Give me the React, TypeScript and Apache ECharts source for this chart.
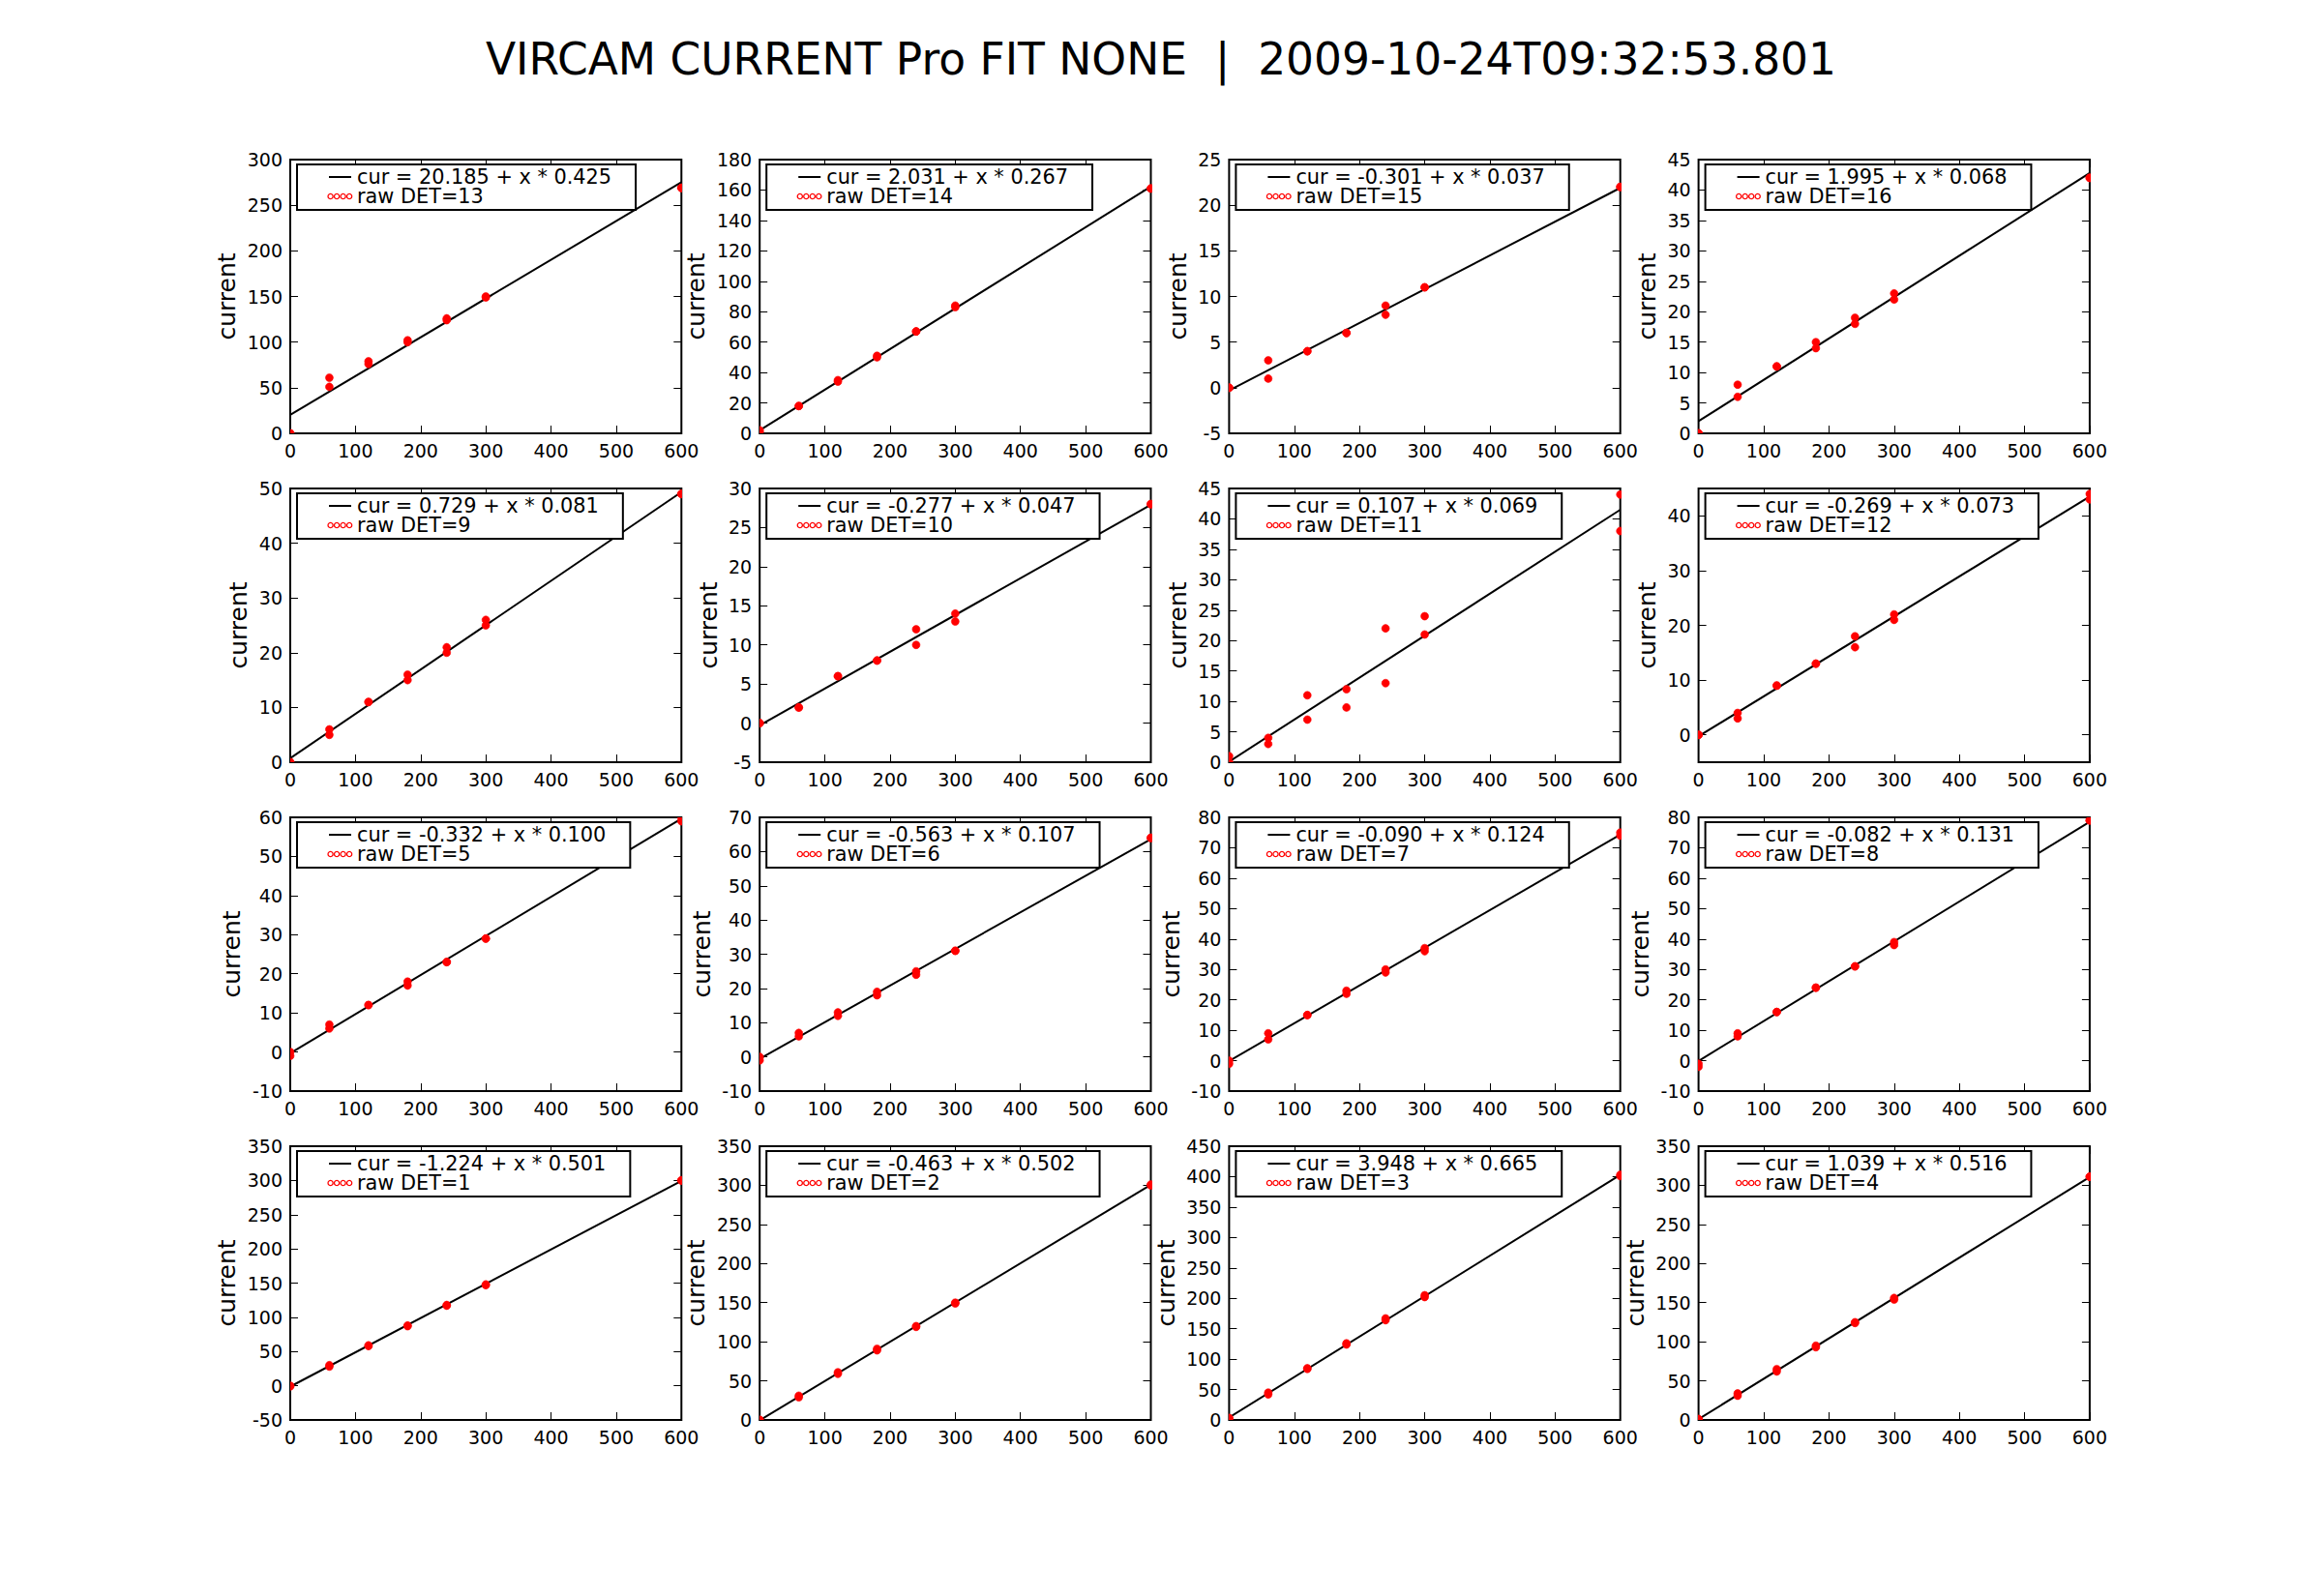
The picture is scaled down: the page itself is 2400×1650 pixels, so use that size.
import React, { useEffect, useRef } from "react";
import * as echarts from "echarts";

const TITLE = "VIRCAM CURRENT Pro FIT NONE  |  2009-10-24T09:32:53.801";
const Y_NAME = "current";

// shared exposure-time axis: two readings per setting
const X_VALUES = [0, 0, 60, 60, 120, 120, 180, 180, 240, 240, 300, 300, 600, 600];
const X_TICKS = [0, 100, 200, 300, 400, 500, 600];
const X_LIMITS = [0, 600];

// panel order, left-to-right, top-to-bottom
const PANEL_DET = [13, 14, 15, 16, 9, 10, 11, 12, 5, 6, 7, 8, 1, 2, 3, 4];

const FIT_INTERCEPT = ["20.185", "2.031", "-0.301", "1.995", "0.729", "-0.277", "0.107", "-0.269", "-0.332", "-0.563", "-0.090", "-0.082", "-1.224", "-0.463", "3.948", "1.039"];
const FIT_SLOPE = ["0.425", "0.267", "0.037", "0.068", "0.081", "0.047", "0.069", "0.073", "0.100", "0.107", "0.124", "0.131", "0.501", "0.502", "0.665", "0.516"];

// raw readings (one per X_VALUES entry)
const RAW_13 = [0, 0, 61, 51, 79, 76, 102, 100, 126, 124, 150, 149, 269, 269];
const RAW_14 = [2, 1, 18, 18, 35, 34, 51, 50, 67, 67, 84, 83, 161, 161];
const RAW_15 = [0, 0, 3, 1, 4, 4, 6, 6, 9, 8, 11, 11, 22, 22];
const RAW_16 = [0, 0, 8, 6, 11, 11, 15, 14, 19, 18, 23, 22, 42, 42];
const RAW_9 = [0, 0, 6, 5, 11, 11, 16, 15, 21, 20, 26, 25, 49, 49];
const RAW_10 = [0, 0, 2, 2, 6, 6, 8, 8, 12, 10, 14, 13, 28, 28];
const RAW_11 = [1, 0, 4, 3, 11, 7, 12, 9, 22, 13, 24, 21, 44, 38];
const RAW_12 = [0, 0, 4, 3, 9, 9, 13, 13, 18, 16, 22, 21, 44, 43];
const RAW_5 = [0, -1, 7, 6, 12, 12, 18, 17, 23, 23, 29, 29, 60, 59];
const RAW_6 = [0, -1, 7, 6, 13, 12, 19, 18, 25, 24, 31, 31, 64, 64];
const RAW_7 = [0, -1, 9, 7, 15, 15, 23, 22, 30, 29, 37, 36, 75, 74];
const RAW_8 = [-1, -2, 9, 8, 16, 16, 24, 24, 31, 31, 39, 38, 79, 79];
const RAW_1 = [0, -1, 30, 28, 59, 58, 88, 87, 118, 117, 148, 147, 300, 300];
const RAW_2 = [0, 0, 31, 29, 61, 59, 91, 89, 120, 119, 150, 149, 301, 300];
const RAW_3 = [3, 3, 45, 42, 85, 84, 126, 124, 167, 164, 205, 202, 403, 401];
const RAW_4 = [1, 1, 34, 31, 65, 62, 95, 93, 125, 124, 156, 154, 311, 311];

const RAW_BY_DET: Record<number, number[]> = {
  1: RAW_1, 2: RAW_2, 3: RAW_3, 4: RAW_4, 5: RAW_5, 6: RAW_6, 7: RAW_7, 8: RAW_8,
  9: RAW_9, 10: RAW_10, 11: RAW_11, 12: RAW_12, 13: RAW_13, 14: RAW_14, 15: RAW_15, 16: RAW_16,
};

const Y_LIMITS = [
  [0, 300], [0, 180], [-5, 25], [0, 45],
  [0, 50], [-5, 30], [0, 45], [-5, 45],
  [-10, 60], [-10, 70], [-10, 80], [-10, 80],
  [-50, 350], [0, 350], [0, 450], [0, 350],
];
const Y_TICKS = [
  [0, 50, 100, 150, 200, 250, 300],
  [0, 20, 40, 60, 80, 100, 120, 140, 160, 180],
  [-5, 0, 5, 10, 15, 20, 25],
  [0, 5, 10, 15, 20, 25, 30, 35, 40, 45],
  [0, 10, 20, 30, 40, 50],
  [-5, 0, 5, 10, 15, 20, 25, 30],
  [0, 5, 10, 15, 20, 25, 30, 35, 40, 45],
  [0, 10, 20, 30, 40],
  [-10, 0, 10, 20, 30, 40, 50, 60],
  [-10, 0, 10, 20, 30, 40, 50, 60, 70],
  [-10, 0, 10, 20, 30, 40, 50, 60, 70, 80],
  [-10, 0, 10, 20, 30, 40, 50, 60, 70, 80],
  [-50, 0, 50, 100, 150, 200, 250, 300, 350],
  [0, 50, 100, 150, 200, 250, 300, 350],
  [0, 50, 100, 150, 200, 250, 300, 350, 400, 450],
  [0, 50, 100, 150, 200, 250, 300, 350],
];

// layout
const FONT = "DejaVu Sans";
const COL_LEFT = [300, 785.2, 1270.4, 1755.6];
const ROW_TOP = [165, 505, 845, 1185];
const PLOT_W = 404.3;
const PLOT_H = 283;
const TICK_FONT = 19;
const LEGEND_FONT = 20.83;
const NAME_FONT = 25;

function labelWidth(v: number) {
  const s = String(v);
  let w = 0;
  for (const ch of s) w += ch === "-" ? 0.361 : 0.636;
  return w * TICK_FONT;
}

function buildOption() {
  const grid: any[] = [];
  const xAxis: any[] = [];
  const yAxis: any[] = [];
  const series: any[] = [];
  const elements: any[] = [];

  const tickStyle = { color: "#000", width: 1 };
  const labelStyle = { fontSize: TICK_FONT, color: "#000", fontFamily: FONT, margin: 8, showMinLabel: true, showMaxLabel: true, hideOverlap: false };

  PANEL_DET.forEach((det, i) => {
    const r = Math.floor(i / 4);
    const c = i % 4;
    const left = COL_LEFT[c];
    const top = ROW_TOP[r];
    const [ymin, ymax] = Y_LIMITS[i];
    const yt = Y_TICKS[i];

    grid.push({
      left, top, width: PLOT_W, height: PLOT_H,
      show: true, borderColor: "#000", borderWidth: 2, backgroundColor: "transparent",
    });

    const xCommon = {
      type: "value", gridIndex: i, min: X_LIMITS[0], max: X_LIMITS[1],
      axisLine: { show: false, onZero: false },
      splitLine: { show: false },
      axisTick: { show: true, inside: true, length: 8, lineStyle: tickStyle, customValues: X_TICKS },
    };
    xAxis.push({ ...xCommon, position: "bottom", axisLabel: { ...labelStyle, customValues: X_TICKS } });
    xAxis.push({ ...xCommon, position: "top", axisLabel: { show: false } });

    const yCommon = {
      type: "value", gridIndex: i, min: ymin, max: ymax,
      axisLine: { show: false, onZero: false },
      splitLine: { show: false },
      axisTick: { show: true, inside: true, length: 8, lineStyle: tickStyle, customValues: yt },
    };
    const maxW = Math.max(...yt.map(labelWidth));
    yAxis.push({
      ...yCommon, position: "left",
      axisLabel: { ...labelStyle, customValues: yt },
      name: Y_NAME, nameLocation: "middle", nameRotate: 90, nameGap: 16.5 + maxW,
      nameTextStyle: { fontSize: NAME_FONT, color: "#000", fontFamily: FONT },
    });
    yAxis.push({ ...yCommon, position: "right", axisLabel: { show: false } });

    const a = parseFloat(FIT_INTERCEPT[i]);
    const b = parseFloat(FIT_SLOPE[i]);
    series.push({
      type: "line", name: `cur = ${FIT_INTERCEPT[i]} + x * ${FIT_SLOPE[i]}`,
      xAxisIndex: 2 * i, yAxisIndex: 2 * i,
      data: [[X_LIMITS[0], a + b * X_LIMITS[0]], [X_LIMITS[1], a + b * X_LIMITS[1]]],
      symbol: "none", showSymbol: false, silent: true, clip: true, z: 2,
      lineStyle: { color: "#000", width: 2 },
    });
    const raw = RAW_BY_DET[det];
    series.push({
      type: "custom", name: `raw DET=${det}`,
      xAxisIndex: 2 * i, yAxisIndex: 2 * i,
      data: X_VALUES.map((x, k) => [x, raw[k]]),
      clip: true, z: 3, silent: true,
      renderItem: (_p: any, api: any) => {
        const pt = api.coord([api.value(0), api.value(1)]);
        return {
          type: "circle",
          shape: { cx: pt[0], cy: pt[1], r: 4 },
          style: { fill: "#ff0000", stroke: "#ff0000", lineWidth: 0.6 },
        };
      },
    });

    // legend box
    elements.push({
      type: "text", x: left + 8, y: top + 6, z: 100,
      style: {
        text: `cur = ${FIT_INTERCEPT[i]} + x * ${FIT_SLOPE[i]}\nraw DET=${det}`,
        fontFamily: FONT, fontSize: LEGEND_FONT, lineHeight: 20, fill: "#000",
        backgroundColor: "#fff", borderColor: "#000", borderWidth: 2,
        padding: [2, 24, 3, 61], align: "left", verticalAlign: "top",
      },
    });
    elements.push({
      type: "line", z: 101,
      shape: { x1: left + 40, y1: top + 18, x2: left + 63, y2: top + 18 },
      style: { stroke: "#000", lineWidth: 2 },
    });
    for (let k = 0; k < 4; k++) {
      elements.push({
        type: "circle", z: 101,
        shape: { cx: left + 41.6 + k * 6.5, cy: top + 38, r: 2.6 },
        style: { fill: "#fff", stroke: "#ff0000", lineWidth: 1.3 },
      });
    }
  });

  return {
    animation: false,
    backgroundColor: "#fff",
    textStyle: { fontFamily: FONT },
    title: {
      text: TITLE, left: "center", top: 33,
      textStyle: { fontSize: 45.5, fontWeight: "normal", color: "#000", fontFamily: FONT, lineHeight: 46 },
    },
    grid, xAxis, yAxis, series,
    graphic: { elements },
  };
}

export default function App() {
  const ref = useRef<HTMLDivElement>(null);
  useEffect(() => {
    document.body.style.margin = "0";
    if (!ref.current) return;
    const chart = echarts.init(ref.current, undefined, { renderer: "svg" });
    chart.setOption(buildOption() as any);
    return () => chart.dispose();
  }, []);
  return <div ref={ref} style={{ width: "2400px", height: "1650px" }} />;
}
